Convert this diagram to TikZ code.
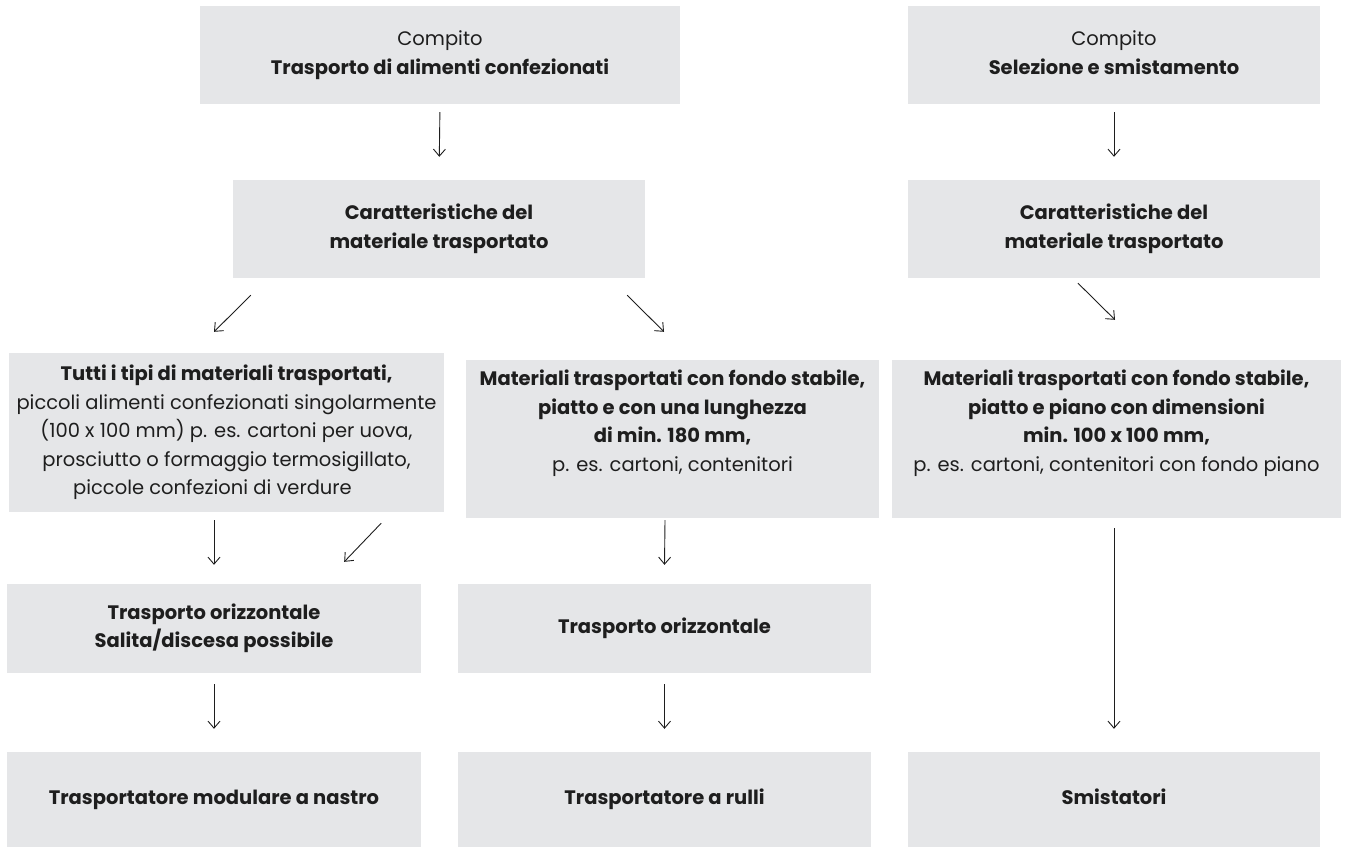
\documentclass[tikz,border=0pt]{standalone}
\usepackage{fontspec}
\setmainfont{Poppins}
\usetikzlibrary{arrows.meta}
\definecolor{boxgray}{RGB}{229,230,232}
\definecolor{ink}{RGB}{30,30,30}
\tikzset{
  box/.style={fill=boxgray,inner sep=0pt,align=center,text=ink,
    font=\fontsize{19.5}{28.5}\selectfont},
  arr/.style={-{Straight Barb[length=7pt,width=12pt]},line width=0.9pt,draw=ink}
}
% grey box from its corners: name, x1, y1, x2, y2, text
\newcommand{\greybox}[6]{%
  \node[box,minimum width={#4-#2},minimum height={#5-#3}] (#1)
    at ({(#2+#4)/2},{(#3+#5)/2}) {#6};}
\begin{document}
\begin{tikzpicture}[x=1pt,y=-1pt]
\useasboundingbox (0,0) rectangle (1346,847);
%row 1: task
\greybox{task1}{200}{6}{680}{104}{Compito\\\textbf{Trasporto di alimenti confezionati}}
\greybox{task2}{908}{6}{1320}{104}{Compito\\\textbf{Selezione e smistamento}\vphantom{p}}
%row 2: features
\greybox{char1}{233}{180}{645}{278}{\textbf{Caratteristiche del}\\\textbf{materiale trasportato}}
\greybox{char2}{908}{180}{1320}{278}{\textbf{Caratteristiche del}\\\textbf{materiale trasportato}}
%row 3: materials
\greybox{all}{9}{353}{444}{512}{\textbf{Tutti i tipi di materiali trasportati,}\\
  piccoli alimenti confezionati singolarmente\\
  (100 x 100 mm) p. es. cartoni per uova,\\
  prosciutto o formaggio termosigillato,\\
  piccole confezioni di verdure\hspace*{28pt}}
\greybox{flat}{466}{360}{879}{518}{\textbf{Materiali trasportati con fondo stabile,}\\
  \textbf{piatto e con una lunghezza}\\
  \textbf{di min. 180 mm,}\\
  p. es. cartoni, contenitori\\[8pt]~}
\greybox{sort}{892}{360}{1341}{518}{\textbf{Materiali trasportati con fondo stabile,}\\
  \textbf{piatto e piano con dimensioni}\\
  \textbf{min. 100 x 100 mm,}\\
  p. es. cartoni, contenitori con fondo piano\\[8pt]~}
%row 4: conveying
\greybox{horiz1}{7}{584}{421}{673}{\textbf{Trasporto orizzontale}\\\textbf{Salita/discesa possibile}}
\greybox{horiz2}{458}{584}{871}{673}{\textbf{Trasporto orizzontale}}
%row 5: result
\greybox{out1}{7}{752}{421}{847}{\textbf{Trasportatore modulare a nastro}}
\greybox{out2}{458}{752}{871}{847}{\textbf{Trasportatore a rulli}}
\greybox{out3}{908}{752}{1320}{847}{\textbf{Smistatori}\vphantom{p}}
%arrows
\draw[arr,shorten <=8pt,shorten >=23pt] (task1.south) -- (char1.north);
\draw[arr,shorten <=8pt,shorten >=23pt] (task2.south) -- (char2.north);
\draw[arr] ([xshift=18pt,yshift=-17pt]char1.south west) -- ([xshift=-12.5pt,yshift=21pt]all.north);
\draw[arr] ([xshift=-18pt,yshift=-17pt]char1.south east) -- ([xshift=-8.5pt,yshift=28pt]flat.north);
\draw[arr] ([xshift=-36pt,yshift=-5pt]char2.south) -- ([xshift=-1.5pt,yshift=40pt]sort.north);
\draw[arr] ([xshift=-12.5pt,yshift=-8pt]all.south) -- ([yshift=19pt]horiz1.north);
\draw[arr] ([xshift=-63pt,yshift=-11pt]all.south east) -- ([xshift=-77pt,yshift=22pt]horiz1.north east);
\draw[arr] ([xshift=-7.5pt,yshift=-2pt]flat.south) -- ([yshift=19pt]horiz2.north);
\draw[arr] ([xshift=-2.5pt,yshift=-10pt]sort.south) -- ([yshift=23pt]out3.north);
\draw[arr,shorten <=11pt,shorten >=23pt] (horiz1.south) -- (out1.north);
\draw[arr,shorten <=11pt,shorten >=23pt] (horiz2.south) -- (out2.north);
\end{tikzpicture}
\end{document}
